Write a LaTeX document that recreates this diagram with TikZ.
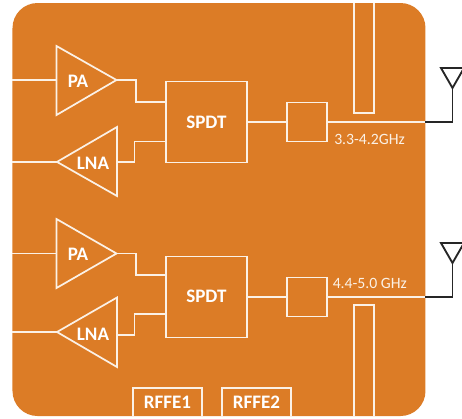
\documentclass[tikz,border=0pt]{standalone}
\usepackage{fontspec}
\setmainfont{Carlito}
\definecolor{panel}{HTML}{DC7C26}
\definecolor{wline}{HTML}{FBF1E6}
\tikzset{
  wire/.style={draw=wline,line width=1.3pt,line join=miter},
  blackwire/.style={draw=black!85,line width=1.4pt,line join=miter},
  blockbox/.style={draw=wline,line width=1.3pt,inner sep=0pt,outer sep=0pt,text=white,font=\fontsize{14.3}{16}\selectfont\bfseries},
  amp/.style={text=white,font=\fontsize{14.3}{16}\selectfont\bfseries,inner sep=0pt},
  freq/.style={text=wline,font=\fontsize{11.8}{13}\selectfont,inner sep=0pt}
}
\begin{document}
\begin{tikzpicture}[x=0.75pt,y=-0.75pt]
\useasboundingbox (0,0) rectangle (462,419);
\fill[panel,rounded corners=18.75pt] (12.5,3) rectangle (425.5,416);

% upper chain
\coordinate (inA) at (12.5,80);
\coordinate (paAin) at (56.5,80);
\coordinate (paAout) at (116.5,80);
\coordinate (inB) at (12.5,161.9);
\coordinate (lnaAtip) at (57,161.9);
\coordinate (lnaAout) at (117,161.9);
\draw[wire] (56.5,46) -- (paAout) -- (56.5,115) -- cycle;
\draw[wire] (lnaAtip) -- (117,127) -- (117,196) -- cycle;
\node[amp] (paAt) at (78,81) {PA};
\node[amp] (lnaAt) at (93,163) {LNA};
\node[blockbox,minimum width=60.75pt,minimum height=60.75pt] (spdtA) at (206.5,121.9) {SPDT};
\node[blockbox,minimum width=30pt,minimum height=29.25pt] (filtA) at (307,121.9) {};
\coordinate (edgeA) at (425.5,121.9);
\coordinate (antA) at (452.5,88);
\coordinate (spdtAu) at (166,102);
\coordinate (spdtAd) at (166,141.5);
\draw[wire] (inA) -- (paAin);
\draw[wire] (inB) -- (lnaAtip);
\draw[wire] (paAout) -| (136,102) -- (spdtAu);
\draw[wire] (lnaAout) -| (134.5,141.5) -- (spdtAd);
\draw[wire] (spdtA) -- (filtA);
\draw[wire] (filtA) -- (edgeA);
\draw[wire] (354,3) -- (354,113) -- (374,113) -- (374,3);
\draw[blackwire] (edgeA) -| (antA);
\draw[blackwire] (antA) -- (441,68) -- (464,68) -- cycle;
\node[freq,anchor=west] (fA) at (334,139.5) {3.3-4.2GHz};

% lower chain
\coordinate (inC) at (12.5,253.5);
\coordinate (paBin) at (56.5,253.5);
\coordinate (paBout) at (116.5,253.5);
\coordinate (inD) at (12.5,332);
\coordinate (lnaBtip) at (57,332);
\coordinate (lnaBout) at (117,335);
\draw[wire] (56.5,219) -- (paBout) -- (56.5,288) -- cycle;
\draw[wire] (lnaBtip) -- (117,297.5) -- (117,367) -- cycle;
\node[amp] (paBt) at (78,254) {PA};
\node[amp] (lnaBt) at (93,334) {LNA};
\node[blockbox,minimum width=60.75pt,minimum height=60.75pt] (spdtB) at (206.5,297) {\raisebox{1.4pt}{SPDT}};
\node[blockbox,minimum width=30pt,minimum height=29.25pt] (filtB) at (307,297) {};
\coordinate (edgeB) at (425.5,297);
\coordinate (antB) at (452.5,263);
\coordinate (spdtBu) at (166,275);
\coordinate (spdtBd) at (166,314);
\draw[wire] (inC) -- (paBin);
\draw[wire] (inD) -- (lnaBtip);
\draw[wire] (paBout) -| (136,275) -- (spdtBu);
\draw[wire] (lnaBout) -| (134.5,314) -- (spdtBd);
\draw[wire] (spdtB) -- (filtB);
\draw[wire] (filtB) -- (edgeB);
\draw[wire] (354,416) -- (354,305) -- (374,305) -- (374,416);
\draw[blackwire] (edgeB) -| (antB);
\draw[blackwire] (antB) -- (441,243) -- (464,243) -- cycle;
\node[freq,anchor=west] (fB) at (332.5,283) {4.4-5.0 GHz};

% control blocks
\draw[wire] (133,416) |- (202,388) -- (202,416);
\draw[wire] (222,416) |- (291,388) -- (291,416);
\node[amp] (rffeA) at (167.5,402.5) {RFFE1};
\node[amp] (rffeB) at (256.5,402.5) {RFFE2};
\end{tikzpicture}
\end{document}
